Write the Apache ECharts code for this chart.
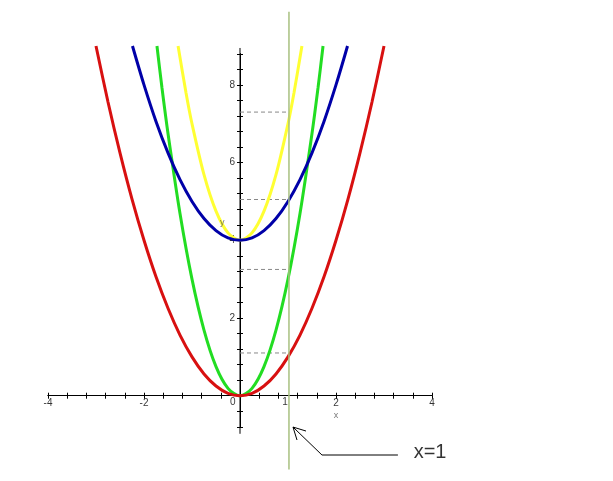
<!DOCTYPE html>
<html>
<head>
<meta charset="utf-8">
<script src="https://cdn.jsdelivr.net/npm/echarts@6/dist/echarts.min.js"></script>
<style>html,body{margin:0;padding:0;background:#fff;}#c{width:613px;height:481px;}</style>
</head>
<body>
<div id="c"></div>
<script>
// y = x^2 (red)
const redPts = [[-3,9],[-2.75,7.56],[-2.5,6.25],[-2.25,5.06],[-2,4],[-1.75,3.06],[-1.5,2.25],[-1.25,1.56],[-1,1],[-0.75,0.56],[-0.5,0.25],[-0.25,0.06],[0,0],[0.25,0.06],[0.5,0.25],[0.75,0.56],[1,1],[1.25,1.56],[1.5,2.25],[1.75,3.06],[2,4],[2.25,5.06],[2.5,6.25],[2.75,7.56],[3,9]];
// y = 3x^2 (green)
const greenPts = [[-1.73,9],[-1.625,7.92],[-1.5,6.75],[-1.25,4.69],[-1,3],[-0.75,1.69],[-0.5,0.75],[-0.25,0.19],[0,0],[0.25,0.19],[0.5,0.75],[0.75,1.69],[1,3],[1.25,4.69],[1.5,6.75],[1.625,7.92],[1.73,9]];
// y = x^2 + 4 (blue)
const bluePts = [[-2.24,9],[-2,8],[-1.75,7.06],[-1.5,6.25],[-1.25,5.56],[-1,5],[-0.75,4.56],[-0.5,4.25],[-0.25,4.06],[0,4],[0.25,4.06],[0.5,4.25],[0.75,4.56],[1,5],[1.25,5.56],[1.5,6.25],[1.75,7.06],[2,8],[2.24,9]];
// y = 3x^2 + 4 (yellow)
const yellowPts = [[-1.29,9],[-1.125,7.8],[-1,7],[-0.75,5.69],[-0.5,4.75],[-0.25,4.19],[0,4],[0.25,4.19],[0.5,4.75],[0.75,5.69],[1,7],[1.125,7.8],[1.29,9]];
// vertical line x=1
const vLineX = 1.02;
const vLineY = [-1.9, 9.88];
// dashed levels at the vertical line
const dashLevels = [1.1, 3.25, 5.05, 7.3];
// y axis line extent
const yAxisExtent = [-0.98, 8.95];
// annotation arrow
const arrowHead = [[1.375,-0.909],[1.104,-0.806],[1.1875,-1.14]];
const arrowBody = [[1.104,-0.806],[1.708,-1.526],[3.29,-1.526]];
// text labels
const texts = [
  {name:'y', value:[-0.37,4.45], size:9, color:'#555'},
  {name:'x', value:[2.0,-0.52], size:9, color:'#555'},
  {name:'0', value:[-0.15,-0.17], size:10, color:'#000'},
  {name:'1', value:[0.94,-0.17], size:10, color:'#000'},
  {name:'x=1', value:[3.96,-1.45], size:20, color:'#000'}
];
const xTickLabels = [-4,-2,2,4];
const yTickLabels = [2,4,6,8];

const font = 'Liberation Sans, Arial, sans-serif';
const chart = echarts.init(document.getElementById('c'));
const curve = (pts, color) => ({
  type:'line', data:pts, smooth:0.3, showSymbol:false, symbol:'none', clip:false,
  lineStyle:{color:color, width:3}, xAxisIndex:0, yAxisIndex:0, z:5
});
const axisCommon = {
  type:'value', splitLine:{show:false}, axisPointer:{show:false}, axisLabel:{show:false}
};
const series = [];
series.push({type:'line', data:[[0,yAxisExtent[0]],[0,yAxisExtent[1]]], symbol:'none', clip:false, lineStyle:{color:'#000', width:1}, z:1, silent:true});
dashLevels.forEach(v => series.push({type:'line', data:[[0,v],[vLineX,v]], symbol:'none', clip:false, lineStyle:{color:'#888', width:1, type:[4,3]}, z:2, silent:true}));
// tick labels (drawn beneath the curves, like the reference)
series.push({type:'scatter', symbolSize:1, itemStyle:{color:'rgba(0,0,0,0)'}, clip:false, z:3, silent:true,
  data: xTickLabels.map(v => ({name:String(v), value:[v,-0.19]})),
  label:{show:true, position:'inside', formatter:'{b}', fontSize:10, color:'#000', fontFamily:font}
});
series.push({type:'scatter', symbolSize:1, itemStyle:{color:'rgba(0,0,0,0)'}, clip:false, z:3, silent:true,
  data: yTickLabels.map(v => ({name:String(v), value:[-0.05,v]})),
  label:{show:true, position:'left', distance:2, formatter:'{b}', fontSize:10, color:'#000', fontFamily:font}
});
series.push(curve(yellowPts, '#ffff33'));
series.push(curve(greenPts, '#22dd22'));
series.push(curve(bluePts, '#0000a8'));
series.push(curve(redPts, '#d81010'));
series.push({type:'line', data:[[vLineX,vLineY[0]],[vLineX,vLineY[1]]], symbol:'none', clip:false, lineStyle:{color:'#a8c080', width:1.5}, z:6, silent:true});
series.push({type:'line', data:arrowHead, symbol:'none', clip:false, lineStyle:{color:'#000', width:1}, z:6, silent:true});
series.push({type:'line', data:arrowBody, symbol:'none', clip:false, lineStyle:{color:'#000', width:1}, z:6, silent:true});
series.push({type:'scatter', symbolSize:1, itemStyle:{color:'rgba(0,0,0,0)'}, clip:false, z:7, silent:true,
  data: texts.map(t => ({name:t.name, value:t.value, label:{show:true, position:'inside', formatter:'{b}', fontSize:t.size, color:t.color, fontFamily:font}}))
});

chart.setOption({
  animation:false,
  backgroundColor:'#fff',
  grid:{left:48, right:181, top:53.8, bottom:54.2},
  xAxis:[
    Object.assign({}, axisCommon, {min:-4, max:4, interval:0.4, position:'bottom',
      axisLine:{onZero:true, lineStyle:{color:'#000', width:1}},
      axisTick:{show:true, inside:false, length:3, lineStyle:{color:'#000'}}}),
    Object.assign({}, axisCommon, {min:-4, max:4, interval:0.4, position:'bottom',
      axisLine:{onZero:true, lineStyle:{color:'#000', width:1}},
      axisTick:{show:true, inside:true, length:3, lineStyle:{color:'#000'}}})
  ],
  yAxis:[
    Object.assign({}, axisCommon, {min:-0.8, max:8.8, interval:0.4, position:'left',
      axisLine:{onZero:true, lineStyle:{color:'#000', width:1}},
      axisTick:{show:true, inside:false, length:3, lineStyle:{color:'#000'}}}),
    Object.assign({}, axisCommon, {min:-0.8, max:8.8, interval:0.4, position:'left',
      axisLine:{onZero:true, lineStyle:{color:'#000', width:1}},
      axisTick:{show:true, inside:true, length:3, lineStyle:{color:'#000'}}})
  ],
  series: series
});
</script>
</body>
</html>
